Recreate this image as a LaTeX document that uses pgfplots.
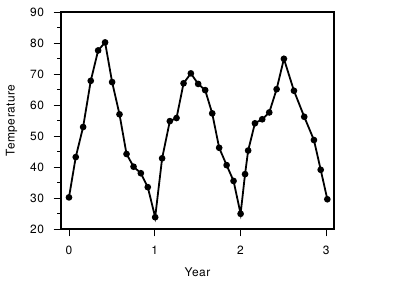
\documentclass[border=0pt]{standalone}
\usepackage{pgfplots}
\pgfplotsset{compat=1.18}
\usepackage{fontspec}
\setmainfont{TeX Gyre Heros}[LetterSpace=4]
\begin{document}
\begin{tikzpicture}
\useasboundingbox (-61bp,-58bp) rectangle (333bp,229bp);
\begin{axis}[
  at={(0,0)}, anchor=south west,
  scale only axis, width=273bp, height=217bp,
  xmin=-0.093, xmax=3.09, ymin=20, ymax=90,
  xtick={0,1,2,3}, ytick={20,30,...,90},
  minor ytick={25,35,...,85},
  tick pos=left, tick align=outside,
  major tick length=7.5bp, minor tick length=4bp,
  every tick/.style={black, line width=0.9pt},
  axis line style={line width=1.1pt},
  /pgf/number format/assume math mode=true,
  ticklabel style={font=\fontsize{12}{14}\selectfont},
  yticklabel style={xshift=-6bp},
  xticklabel style={yshift=-6bp},
  label style={font=\fontsize{12}{14}\selectfont},
  xlabel={Year}, ylabel={Temperature},
  xlabel style={at={(axis description cs:0.5,-0.198)}, anchor=center},
  ylabel style={at={(axis description cs:-0.1813,0.5)}, anchor=center},
  clip=false,
]
\addplot[black, line width=1.8pt, mark=*, mark size=2.4pt] coordinates {
(0.000,30.2) (0.079,43.2) (0.165,52.9) (0.254,67.8) (0.340,77.6) (0.421,80.2)
(0.503,67.4) (0.589,57.0) (0.671,44.2) (0.753,40.1) (0.838,38.0) (0.919,33.5)
(1.005,23.8) (1.086,42.8) (1.176,54.8) (1.254,55.8) (1.336,67.0) (1.421,70.2)
(1.506,66.8) (1.588,64.8) (1.670,57.3) (1.751,46.2) (1.838,40.6) (1.919,35.5)
(2.001,24.9) (2.053,37.7) (2.089,45.3) (2.168,54.1) (2.253,55.4) (2.335,57.6)
(2.421,65.1) (2.506,74.9) (2.623,64.6) (2.743,56.2) (2.856,48.7) (2.935,39.1)
(3.012,29.6)
};
\end{axis}
\end{tikzpicture}
\end{document}
